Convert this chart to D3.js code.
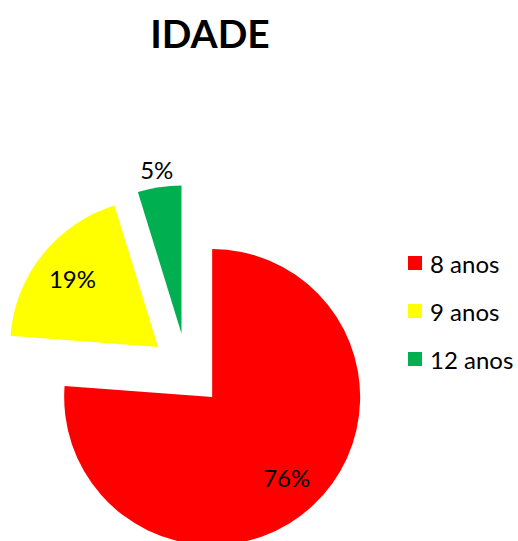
<!DOCTYPE html>
<html>
<head>
<meta charset="utf-8">
<script src="https://cdn.jsdelivr.net/npm/d3@7"></script>
<style>
  body { margin: 0; background: #fff; }
  text { font-family: Lato, "Noto Sans", sans-serif; }
</style>
</head>
<body>
<div id="chart"></div>
<script>
const categories = ["8 anos", "9 anos", "12 anos"];
const values = [16, 4, 1];
const colors = ["#ff0000", "#ffff00", "#00b050"];

const width = 518, height = 541;
const cx = 187, cy = 370;
const radius = 148;
const explode = 37;

const svg = d3.select("#chart").append("svg")
  .attr("width", width)
  .attr("height", height);

svg.append("text")
  .attr("x", 210)
  .attr("y", 48)
  .attr("text-anchor", "middle")
  .attr("font-size", "39px")
  .attr("font-weight", "bold")
  .text("IDADE");

const total = d3.sum(values);
const pct = d3.format(".0%");
const color = d3.scaleOrdinal(categories, colors);

const pie = d3.pie().sort(null).value(d => d.v);
const arc = d3.arc().innerRadius(0).outerRadius(radius);

const slices = pie(categories.map((c, i) => ({ c: c, v: values[i] })));

const g = svg.append("g").attr("transform", "translate(" + cx + "," + cy + ")");

const arcs = g.selectAll(".slice")
  .data(slices)
  .enter()
  .append("g")
  .attr("class", "slice")
  .attr("transform", d => {
    const a = (d.startAngle + d.endAngle) / 2;
    return "translate(" + (Math.sin(a) * explode) + "," + (-Math.cos(a) * explode) + ")";
  });

arcs.append("path")
  .attr("d", arc)
  .attr("fill", d => color(d.data.c));

// labels: inside for big slices, outside for the small one
arcs.append("text")
  .attr("transform", d => {
    const a = (d.startAngle + d.endAngle) / 2;
    const share = d.data.v / total;
    const r = share < 0.1 ? radius * 1.12 : radius * 0.74;
    return "translate(" + (Math.sin(a) * r) + "," + (-Math.cos(a) * r) + ")";
  })
  .attr("text-anchor", "middle")
  .attr("dominant-baseline", "central")
  .attr("font-size", "24px")
  .attr("fill", "#000")
  .text(d => pct(d.data.v / total));

// legend
const legend = svg.append("g").attr("transform", "translate(408,263)");
const rows = legend.selectAll(".row")
  .data(categories)
  .enter()
  .append("g")
  .attr("class", "row")
  .attr("transform", (d, i) => "translate(0," + (i * 48) + ")");

rows.append("rect")
  .attr("x", 0)
  .attr("y", -7)
  .attr("width", 14)
  .attr("height", 14)
  .attr("fill", d => color(d));

rows.append("text")
  .attr("x", 22)
  .attr("y", 0)
  .attr("dominant-baseline", "central")
  .attr("font-size", "24px")
  .attr("fill", "#000")
  .text(d => d);
</script>
</body>
</html>
